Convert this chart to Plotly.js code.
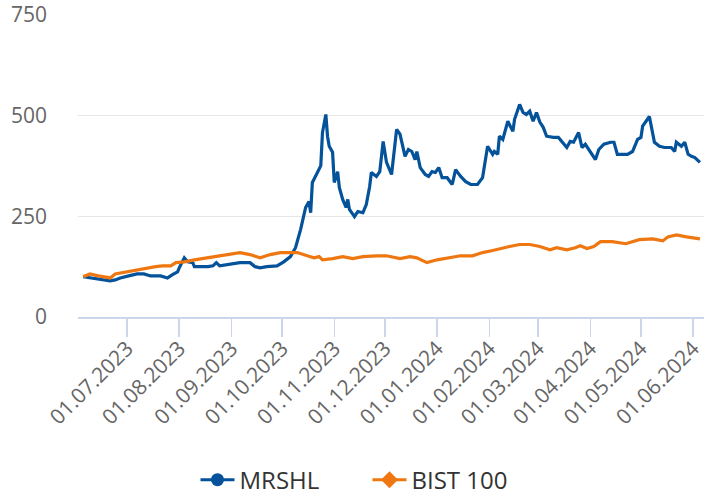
<!DOCTYPE html>
<html>
<head>
<meta charset="utf-8">
<script src="https://cdn.plot.ly/plotly-3.0.1.min.js"></script>
<style>html,body{margin:0;padding:0;background:#fff;}#chart{width:704px;height:497px;}</style>
</head>
<body>
<div id="chart"></div>
<script>
const mrshlDates = ['2023-06-05','2023-06-09','2023-06-13','2023-06-17','2023-06-21','2023-06-24','2023-06-27',
'2023-07-02','2023-07-07','2023-07-11','2023-07-15','2023-07-21','2023-07-25','2023-07-28','2023-07-31',
'2023-08-01','2023-08-04','2023-08-06','2023-08-09','2023-08-10','2023-08-13','2023-08-18','2023-08-21','2023-08-23','2023-08-25','2023-08-31',
'2023-09-06','2023-09-10','2023-09-12','2023-09-15','2023-09-18','2023-09-22','2023-09-28',
'2023-10-02','2023-10-06','2023-10-09','2023-10-12','2023-10-15','2023-10-17','2023-10-18','2023-10-19','2023-10-22','2023-10-24','2023-10-25','2023-10-27','2023-10-28','2023-10-29','2023-10-31',
'2023-11-01','2023-11-03','2023-11-04','2023-11-06','2023-11-08','2023-11-09','2023-11-10','2023-11-13','2023-11-15','2023-11-18','2023-11-20','2023-11-22','2023-11-23','2023-11-26','2023-11-28','2023-11-30',
'2023-12-02','2023-12-05','2023-12-08','2023-12-10','2023-12-13','2023-12-15','2023-12-17','2023-12-19','2023-12-20','2023-12-22','2023-12-25','2023-12-27','2023-12-29','2023-12-31',
'2024-01-02','2024-01-04','2024-01-07','2024-01-10','2024-01-12','2024-01-15','2024-01-18','2024-01-21','2024-01-25','2024-01-28','2024-01-29','2024-01-31',
'2024-02-03','2024-02-04','2024-02-06','2024-02-07','2024-02-09','2024-02-12','2024-02-15','2024-02-16','2024-02-19','2024-02-21','2024-02-23','2024-02-25','2024-02-27','2024-02-29',
'2024-03-02','2024-03-04','2024-03-06','2024-03-10','2024-03-13','2024-03-16','2024-03-18','2024-03-20','2024-03-22','2024-03-25','2024-03-27','2024-03-29',
'2024-04-01','2024-04-04','2024-04-06','2024-04-09','2024-04-13','2024-04-15','2024-04-17','2024-04-20','2024-04-23','2024-04-26','2024-04-29',
'2024-05-01','2024-05-02','2024-05-06','2024-05-08','2024-05-09','2024-05-12','2024-05-15','2024-05-19','2024-05-21','2024-05-22','2024-05-25','2024-05-27','2024-05-29','2024-05-31',
'2024-06-02','2024-06-05'];
const mrshlValues = [100,97,95,92,90,92,97,
102,107,107,102,102,97,105,112,
122,147,137,135,125,125,125,127,135,127,130,
135,135,135,125,122,125,127,
137,150,172,217,272,287,259,334,359,376,458,503,449,424,409,
334,361,322,292,272,292,267,249,262,259,279,324,359,349,361,436,
384,354,466,454,399,416,411,391,411,371,354,349,361,359,
371,346,346,329,366,349,336,329,329,346,374,424,
404,411,404,449,441,486,461,491,528,508,503,511,486,508,
484,471,449,446,446,429,421,436,434,458,421,429,
411,391,416,429,434,434,404,404,404,411,441,
446,474,498,454,434,424,421,421,411,434,424,434,404,399,
396,384];

const bistDates = ['2023-06-05','2023-06-09','2023-06-14','2023-06-17','2023-06-21','2023-06-24','2023-06-30',
'2023-07-06','2023-07-12','2023-07-18','2023-07-22','2023-07-27','2023-07-30',
'2023-08-04','2023-08-10','2023-08-17','2023-08-23','2023-08-29',
'2023-09-06','2023-09-12','2023-09-18','2023-09-24','2023-09-30',
'2023-10-04','2023-10-10','2023-10-16','2023-10-20','2023-10-23','2023-10-25','2023-10-31',
'2023-11-06','2023-11-12','2023-11-18','2023-11-26',
'2023-12-02','2023-12-10','2023-12-16','2023-12-20','2023-12-26',
'2024-01-01','2024-01-07','2024-01-15','2024-01-22','2024-01-28',
'2024-02-03','2024-02-09','2024-02-13','2024-02-19','2024-02-25',
'2024-03-02','2024-03-08','2024-03-12','2024-03-18','2024-03-23','2024-03-26','2024-03-30',
'2024-04-03','2024-04-07','2024-04-14','2024-04-22','2024-04-26','2024-04-30',
'2024-05-08','2024-05-14','2024-05-17','2024-05-22','2024-05-28',
'2024-06-05'];
const bistValues = [100,107,102,100,97,107,112,
117,122,125,127,127,135,
137,142,147,152,155,
160,155,147,155,160,
160,160,152,147,150,142,145,
150,145,150,152,
152,145,150,147,135,
142,147,152,152,160,
165,172,175,180,180,
175,167,172,167,172,177,170,
175,187,187,182,187,192,
194,189,199,204,199,
194];

const seriesNames = ['MRSHL', 'BIST 100'];
const yTicks = [0, 250, 500, 750];

const blue = '#03529a';
const orange = '#ee7711';
const font = 'Open Sans, Noto Sans, sans-serif';

const traces = [
  {x: mrshlDates, y: mrshlValues, type: 'scatter', mode: 'lines', name: seriesNames[0],
   line: {color: blue, width: 3.2}, showlegend: false},
  {x: bistDates, y: bistValues, type: 'scatter', mode: 'lines', name: seriesNames[1],
   line: {color: orange, width: 3.2}, showlegend: false},
  {x: [null], y: [null], type: 'scatter', mode: 'lines+markers', name: seriesNames[0],
   line: {color: blue, width: 3}, marker: {symbol: 'circle', size: 13, color: blue}},
  {x: [null], y: [null], type: 'scatter', mode: 'lines+markers', name: seriesNames[1],
   line: {color: orange, width: 3}, marker: {symbol: 'diamond', size: 13, color: orange}}
];

const layout = {
  width: 704, height: 497,
  margin: {l: 78, r: 0, t: 15, b: 180},
  paper_bgcolor: '#fff', plot_bgcolor: '#fff',
  font: {family: font, color: '#666'},
  xaxis: {
    type: 'date',
    range: ['2023-06-01 22:00', '2024-06-07 10:00'],
    tick0: '2023-07-01', dtick: 'M1', tickformat: '%d.%m.%Y',
    tickangle: -45, ticks: 'outside', ticklen: 18, tickwidth: 1.5, tickcolor: '#ccd6eb',
    ticklabeloverflow: 'allow', ticklabelstandoff: -9,
    showgrid: false, showline: true, linecolor: '#ccd6eb', linewidth: 2, zeroline: false,
    tickfont: {family: font, size: 21, color: '#666'}
  },
  yaxis: {
    range: [0, 750], tickvals: yTicks, ticktext: yTicks.map(String),
    gridcolor: '#e6e6e6', gridwidth: 1.5, zeroline: false, showline: false,
    ticklabelstandoff: 30,
    tickfont: {family: font, size: 21, color: '#666'}
  },
  showlegend: true,
  legend: {
    orientation: 'h', xref: 'container', yref: 'container',
    x: 0.522, xanchor: 'center', y: 0.034, yanchor: 'middle',
    font: {family: font, size: 24, color: '#333'},
    itemwidth: 34, entrywidth: 123, entrywidthmode: 'pixels'
  }
};

Plotly.newPlot('chart', traces, layout, {staticPlot: true, displayModeBar: false});
</script>
</body>
</html>
